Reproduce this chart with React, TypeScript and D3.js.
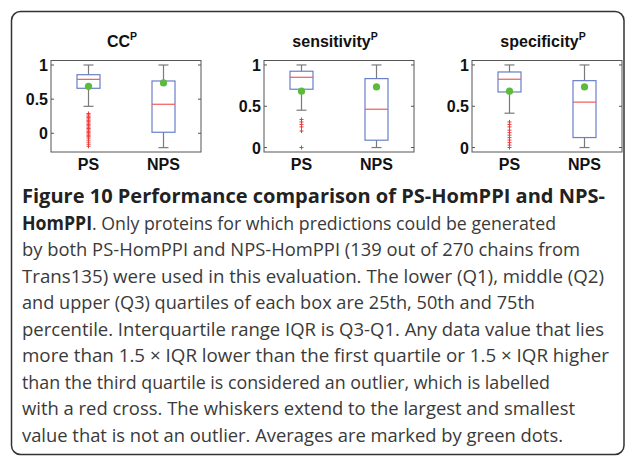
import React from "react";
import * as d3 from "d3";

const titles = ["CC", "sensitivity", "specificity"];
const categories = ["PS", "NPS"];
const yTicks = [0, 0.5, 1];
const yDomains = [
  [-0.274, 1.066],
  [-0.054, 1.054],
  [-0.054, 1.054],
];
const whiskerLow = [
  [0.395, -0.21],
  [0.452, 0.0],
  [0.416, 0.0],
];
const q1 = [
  [0.659, 0.015],
  [0.706, 0.089],
  [0.673, 0.121],
];
const medians = [
  [0.79, 0.425],
  [0.851, 0.464],
  [0.827, 0.55],
];
const q3 = [
  [0.858, 0.766],
  [0.924, 0.835],
  [0.915, 0.81],
];
const whiskerHigh = [
  [1.0, 1.0],
  [1.0, 1.0],
  [1.0, 1.0],
];
const means = [
  [0.688, 0.737],
  [0.682, 0.734],
  [0.682, 0.734],
];
const outliersCC = [
  0.29, 0.27, 0.25, 0.23, 0.21, 0.19, 0.17, 0.15, 0.13, 0.11, 0.09, 0.07, 0.05,
  0.03, 0.01, -0.01, -0.03, -0.05, -0.07, -0.1, -0.13, -0.16, -0.19,
];
const outliersSens = [0.34, 0.31, 0.28, 0.25, 0.2, 0.0];
const outliersSpec = [0.31, 0.28, 0.25, 0.21, 0.18, 0.15, 0.12, 0.09, 0.06, 0.03, 0.0];
const outliers = [outliersCC, outliersSens, outliersSpec];

const captionBold = "Figure 10 Performance comparison of PS-HomPPI and NPS-";
const captionLines = [
  ". Only proteins for which predictions could be generated",
  "by both PS-HomPPI and NPS-HomPPI (139 out of 270 chains from",
  "Trans135) were used in this evaluation. The lower (Q1), middle (Q2)",
  "and upper (Q3) quartiles of each box are 25th, 50th and 75th",
  "percentile. Interquartile range IQR is Q3-Q1. Any data value that lies",
  "more than 1.5 \u00d7 IQR lower than the first quartile or 1.5 \u00d7 IQR higher",
  "than the third quartile is considered an outlier, which is labelled",
  "with a red cross. The whiskers extend to the largest and smallest",
  "value that is not an outlier. Averages are marked by green dots.",
];
const captionEnds = [605, 556, 580, 604, 535, 604, 609, 550, 575, 563];

const W = 628;
const H = 456;
const panelLeft = [51, 264, 472];
const panelW = 150;
const top = 60.5;
const bottom = 152;
const boxW = 23;
const capW = 10;

const boxColor = "#6a7fc8";
const medColor = "#f05a5a";
const whiskColor = "#7a7a7a";
const meanColor = "#5cba3c";
const outColor = "#f03a3a";
const axisColor = "#555";
const tickFont = "'Liberation Sans', Arial, sans-serif";

function Panel({ p }: { p: number }) {
  const x0 = panelLeft[p];
  const x = d3.scaleLinear().domain([0.5, 2.5]).range([x0, x0 + panelW]);
  const y = d3.scaleLinear().domain(yDomains[p]).range([bottom, top]);
  const cx = x0 + panelW / 2;
  return (
    <g>
      <text
        x={cx - 4}
        y={46.5}
        textAnchor="middle"
        fontFamily={tickFont}
        fontWeight="bold"
        fontSize={16}
        fill="#111"
      >
        {titles[p]}
        <tspan fontSize={10.5} dy={-7}>P</tspan>
      </text>
      <rect x={x0} y={top} width={panelW} height={bottom - top} fill="white" stroke={axisColor} strokeWidth={1} />
      {yTicks.map((t) => (
        <g key={t}>
          <line x1={x0} x2={x0 + 3} y1={y(t)} y2={y(t)} stroke={axisColor} />
          <line x1={x0 + panelW - 3} x2={x0 + panelW} y1={y(t)} y2={y(t)} stroke={axisColor} />
          <text
            x={x0 - 3}
            y={y(t) + 6}
            textAnchor="end"
            fontFamily={tickFont}
            fontWeight="bold"
            fontSize={16}
            fill="#111"
          >
            {t === 0.5 ? "0.5" : String(t)}
          </text>
        </g>
      ))}
      {categories.map((c, i) => {
        const xc = x(i + 1);
        return (
          <g key={c}>
            <line x1={xc} x2={xc} y1={y(q3[p][i])} y2={y(whiskerHigh[p][i])} stroke={whiskColor} strokeWidth={1.2} />
            <line x1={xc} x2={xc} y1={y(q1[p][i])} y2={y(whiskerLow[p][i])} stroke={whiskColor} strokeWidth={1.2} />
            <line x1={xc - capW / 2} x2={xc + capW / 2} y1={y(whiskerHigh[p][i])} y2={y(whiskerHigh[p][i])} stroke={whiskColor} strokeWidth={1.2} />
            <line x1={xc - capW / 2} x2={xc + capW / 2} y1={y(whiskerLow[p][i])} y2={y(whiskerLow[p][i])} stroke={whiskColor} strokeWidth={1.2} />
            <rect
              x={xc - boxW / 2}
              y={y(q3[p][i])}
              width={boxW}
              height={y(q1[p][i]) - y(q3[p][i])}
              fill="none"
              stroke={boxColor}
              strokeWidth={1.2}
            />
            <line x1={xc - boxW / 2} x2={xc + boxW / 2} y1={y(medians[p][i])} y2={y(medians[p][i])} stroke={medColor} strokeWidth={1.2} />
            {i === 0 &&
              outliers[p].map((v, k) => (
                <path
                  key={k}
                  d={`M${xc - 2},${y(v)}h4M${xc},${y(v) - 2}v4`}
                  stroke={outColor}
                  strokeWidth={1}
                />
              ))}
            <circle cx={xc} cy={y(means[p][i])} r={3.6} fill={meanColor} />
            <text
              x={xc}
              y={169.5}
              textAnchor="middle"
              fontFamily={tickFont}
              fontWeight="bold"
              fontSize={16}
              fill="#111"
            >
              {c}
            </text>
          </g>
        );
      })}
    </g>
  );
}

export default function App() {
  const capFont = "'Open Sans', 'Noto Sans', sans-serif";
  const lineY = (i: number) => 203 + i * 26.5;
  return (
    <svg width={W} height={H} style={{ position: "absolute", left: 0, top: 0, background: "white" }}>
      <rect x={0} y={0} width={W} height={H} fill="white" />
      <rect x={11.5} y={11.5} width={612.5} height={443} rx={9} fill="white" stroke="#333" strokeWidth={1.5} />
      {[0, 1, 2].map((p) => (
        <Panel key={p} p={p} />
      ))}
      <text
        x={22}
        y={lineY(0)}
        fontFamily={capFont}
        fontWeight="bold"
        fontSize={19}
        fill="#222"
        textLength={captionEnds[0] - 22}
        lengthAdjust="spacingAndGlyphs"
      >
        {captionBold}
      </text>
      {captionLines.map((t, i) => (
        <text
          key={i}
          x={22}
          y={lineY(i + 1)}
          fontFamily={capFont}
          fontSize={19}
          fill="#3a3a3a"
          textLength={captionEnds[i + 1] - 22}
          lengthAdjust="spacingAndGlyphs"
        >
          {i === 0 ? (
            <>
              <tspan fontWeight="bold" fill="#222">HomPPI</tspan>
              {t}
            </>
          ) : (
            t
          )}
        </text>
      ))}
    </svg>
  );
}
